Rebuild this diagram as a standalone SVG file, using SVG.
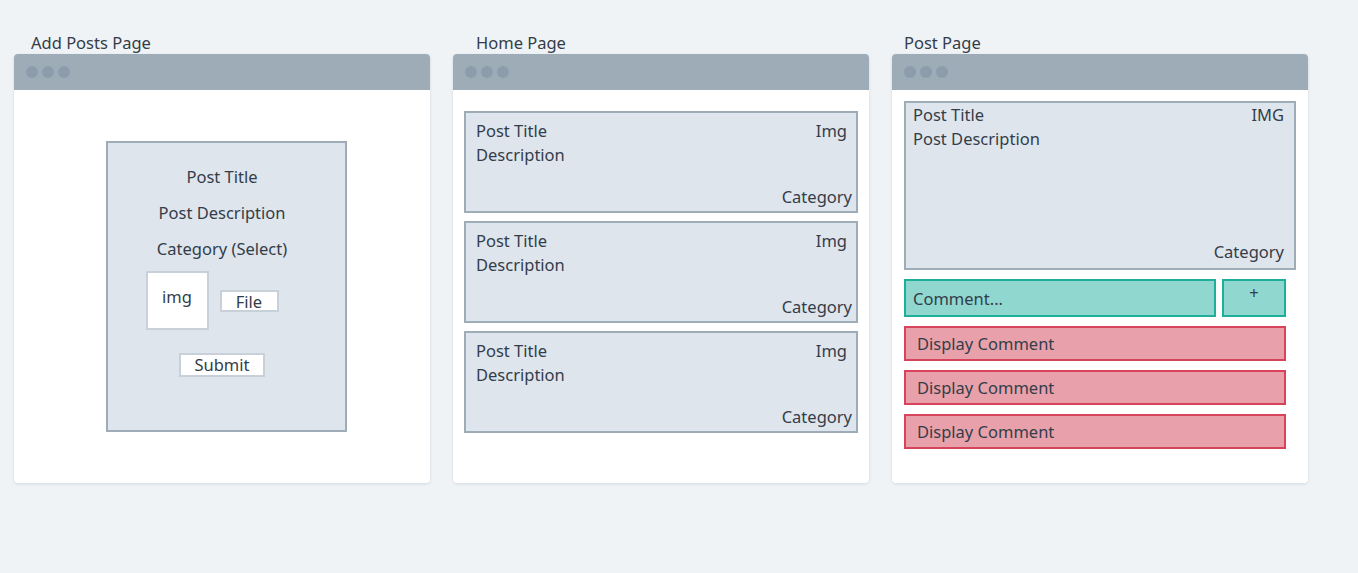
<svg xmlns="http://www.w3.org/2000/svg" width="1358" height="573" viewBox="0 0 1358 573">
<defs>
<filter id="sh" x="-5%" y="-5%" width="110%" height="110%"><feDropShadow dx="0" dy="1" stdDeviation="1.5" flood-color="#9aa8b5" flood-opacity="0.35"/></filter>
</defs>
<style>
text{font-family:"Noto Sans","Liberation Sans",sans-serif;font-size:16.5px;fill:#333d49}
.win{fill:#ffffff}
.bar{fill:#9eacb8}
.dot{fill:#8d9cab}
.card{fill:#dfe5ed;stroke:#9eacb8;stroke-width:2}
.wbox{fill:#ffffff;stroke:#c8d1da;stroke-width:2}
.teal{fill:#8fd7cf;stroke:#1fae9a;stroke-width:2}
.red{fill:#e8a1aa;stroke:#d6435a;stroke-width:2}
.e{text-anchor:end}
.m{text-anchor:middle}
</style>
<rect width="1358" height="573" fill="#eff3f6"/>
<g id="win-add">
<text x="31" y="49">Add Posts Page</text>
<g filter="url(#sh)"><rect class="win" x="14" y="54" width="416" height="429" rx="4"/></g>
<path class="bar" d="M14 90V58a4 4 0 0 1 4-4h408a4 4 0 0 1 4 4v32z"/>
<circle class="dot" cx="32" cy="72" r="6"/><circle class="dot" cx="48" cy="72" r="6"/><circle class="dot" cx="64" cy="72" r="6"/>
</g>
<g id="add-form">
<rect class="card" x="107" y="142" width="239" height="289"/>
<text class="m" x="222" y="183">Post Title</text>
<text class="m" x="222" y="219">Post Description</text>
<text class="m" x="222" y="255">Category (Select)</text>
</g>
<g id="add-img"><rect class="wbox" x="147" y="272" width="61" height="57"/><text class="m" x="177" y="303">img</text></g>
<g id="add-file"><rect class="wbox" x="221" y="291" width="57" height="20"/><text class="m" x="249" y="308">File</text></g>
<g id="add-submit"><rect class="wbox" x="180" y="354" width="84" height="22"/><text class="m" x="222" y="371">Submit</text></g>

<g id="win-home">
<text x="476" y="49">Home Page</text>
<g filter="url(#sh)"><rect class="win" x="453" y="54" width="416" height="429" rx="4"/></g>
<path class="bar" d="M453 90V58a4 4 0 0 1 4-4h408a4 4 0 0 1 4 4v32z"/>
<circle class="dot" cx="471" cy="72" r="6"/><circle class="dot" cx="487" cy="72" r="6"/><circle class="dot" cx="503" cy="72" r="6"/>
</g>
<g id="home-card1"><rect class="card" x="465" y="112" width="392" height="100"/><text x="476" y="137">Post Title</text><text x="476" y="161">Description</text><text class="e" x="847" y="137">Img</text><text class="e" x="852" y="203">Category</text></g>
<g id="home-card2"><rect class="card" x="465" y="222" width="392" height="100"/><text x="476" y="247">Post Title</text><text x="476" y="271">Description</text><text class="e" x="847" y="247">Img</text><text class="e" x="852" y="313">Category</text></g>
<g id="home-card3"><rect class="card" x="465" y="332" width="392" height="100"/><text x="476" y="357">Post Title</text><text x="476" y="381">Description</text><text class="e" x="847" y="357">Img</text><text class="e" x="852" y="423">Category</text></g>

<g id="win-post">
<text x="904" y="49">Post Page</text>
<g filter="url(#sh)"><rect class="win" x="892" y="54" width="416" height="429" rx="4"/></g>
<path class="bar" d="M892 90V58a4 4 0 0 1 4-4h408a4 4 0 0 1 4 4v32z"/>
<circle class="dot" cx="910" cy="72" r="6"/><circle class="dot" cx="926" cy="72" r="6"/><circle class="dot" cx="942" cy="72" r="6"/>
</g>
<g id="post-card"><rect class="card" x="905" y="102" width="390" height="167"/><text x="913" y="121">Post Title</text><text x="913" y="145">Post Description</text><text class="e" x="1284" y="121">IMG</text><text class="e" x="1284" y="258">Category</text></g>
<g id="comment-input"><rect class="teal" x="905" y="280" width="310" height="36"/><text x="913" y="305">Comment...</text></g>
<g id="comment-add"><rect class="teal" x="1223" y="280" width="62" height="36"/><text class="m" x="1254" y="299">+</text></g>
<g id="comment1"><rect class="red" x="905" y="327" width="380" height="33"/><text x="917" y="350">Display Comment</text></g>
<g id="comment2"><rect class="red" x="905" y="371" width="380" height="33"/><text x="917" y="394">Display Comment</text></g>
<g id="comment3"><rect class="red" x="905" y="415" width="380" height="33"/><text x="917" y="438">Display Comment</text></g>
<g id="connectors"></g>
</svg>
